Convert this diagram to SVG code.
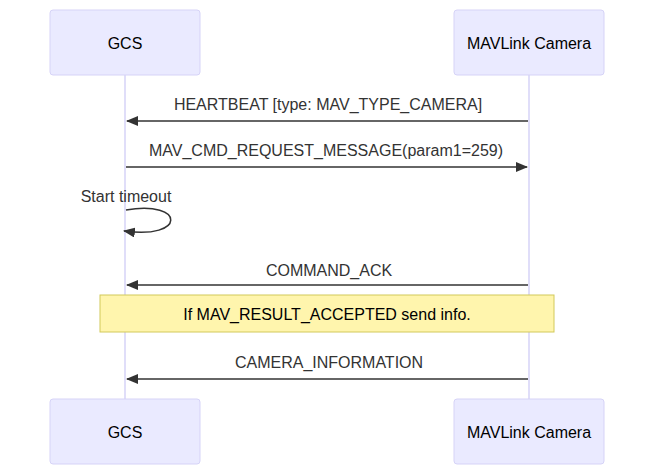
<svg xmlns="http://www.w3.org/2000/svg" width="654" height="475" viewBox="0 0 654 475">
<style>
.actor{fill:#eaeaff;stroke:#d6d3f7;stroke-width:1}
.life{stroke:#d6d3f7;stroke-width:1.5}
.atext{font-family:"Liberation Sans",Arial,sans-serif;font-size:16px;fill:#000;text-anchor:middle;dominant-baseline:central}
.msg{stroke:#333;stroke-width:1.5;fill:none}
.mtext{font-family:"Liberation Sans",Arial,sans-serif;font-size:16px;fill:#333;text-anchor:middle}
.note{fill:#fff5ad;stroke:#d2c95a;stroke-width:1}
.ntext{font-family:"Liberation Sans",Arial,sans-serif;font-size:16px;fill:#000;text-anchor:middle;dominant-baseline:central}
</style>
<defs>
<marker id="arrow" viewBox="0 0 12 10" refX="11" refY="5" markerWidth="12" markerHeight="10" markerUnits="userSpaceOnUse" orient="auto">
<path d="M0,0 L12,5 L0,10 z" fill="#333"/>
</marker>
</defs>
<rect width="654" height="475" fill="#fff"/>
<g id="lifelines">
<line class="life" x1="125" y1="75" x2="125" y2="399"/>
<line class="life" x1="529" y1="75" x2="529" y2="399"/>
</g>
<g id="gcs-top"><rect class="actor" x="50" y="10" width="150" height="65" rx="3"/><text class="atext" x="125" y="43">GCS</text></g>
<g id="cam-top"><rect class="actor" x="454" y="10" width="150" height="65" rx="3"/><text class="atext" x="529" y="43">MAVLink Camera</text></g>
<g id="gcs-bottom"><rect class="actor" x="50" y="399" width="150" height="65" rx="3"/><text class="atext" x="125" y="432">GCS</text></g>
<g id="cam-bottom"><rect class="actor" x="454" y="399" width="150" height="65" rx="3"/><text class="atext" x="529" y="432">MAVLink Camera</text></g>
<g id="note"><rect class="note" x="100" y="295" width="454" height="37"/><text class="ntext" x="327" y="314">If MAV_RESULT_ACCEPTED send info.</text></g>
<g id="connectors">
<line class="msg" x1="528" y1="121" x2="127" y2="121" marker-end="url(#arrow)"/>
<line class="msg" x1="126" y1="167" x2="527" y2="167" marker-end="url(#arrow)"/>
<path class="msg" d="M126,210 C186,200 186,240 124,231" marker-end="url(#arrow)"/>
<line class="msg" x1="528" y1="285" x2="127" y2="285" marker-end="url(#arrow)"/>
<line class="msg" x1="528" y1="379" x2="127" y2="379" marker-end="url(#arrow)"/>
</g>
<g id="labels">
<text class="mtext" x="328" y="110">HEARTBEAT [type: MAV_TYPE_CAMERA]</text>
<text class="mtext" x="326" y="156">MAV_CMD_REQUEST_MESSAGE(param1=259)</text>
<text class="mtext" x="126" y="202">Start timeout</text>
<text class="mtext" x="329" y="276">COMMAND_ACK</text>
<text class="mtext" x="329" y="368">CAMERA_INFORMATION</text>
</g>
</svg>
